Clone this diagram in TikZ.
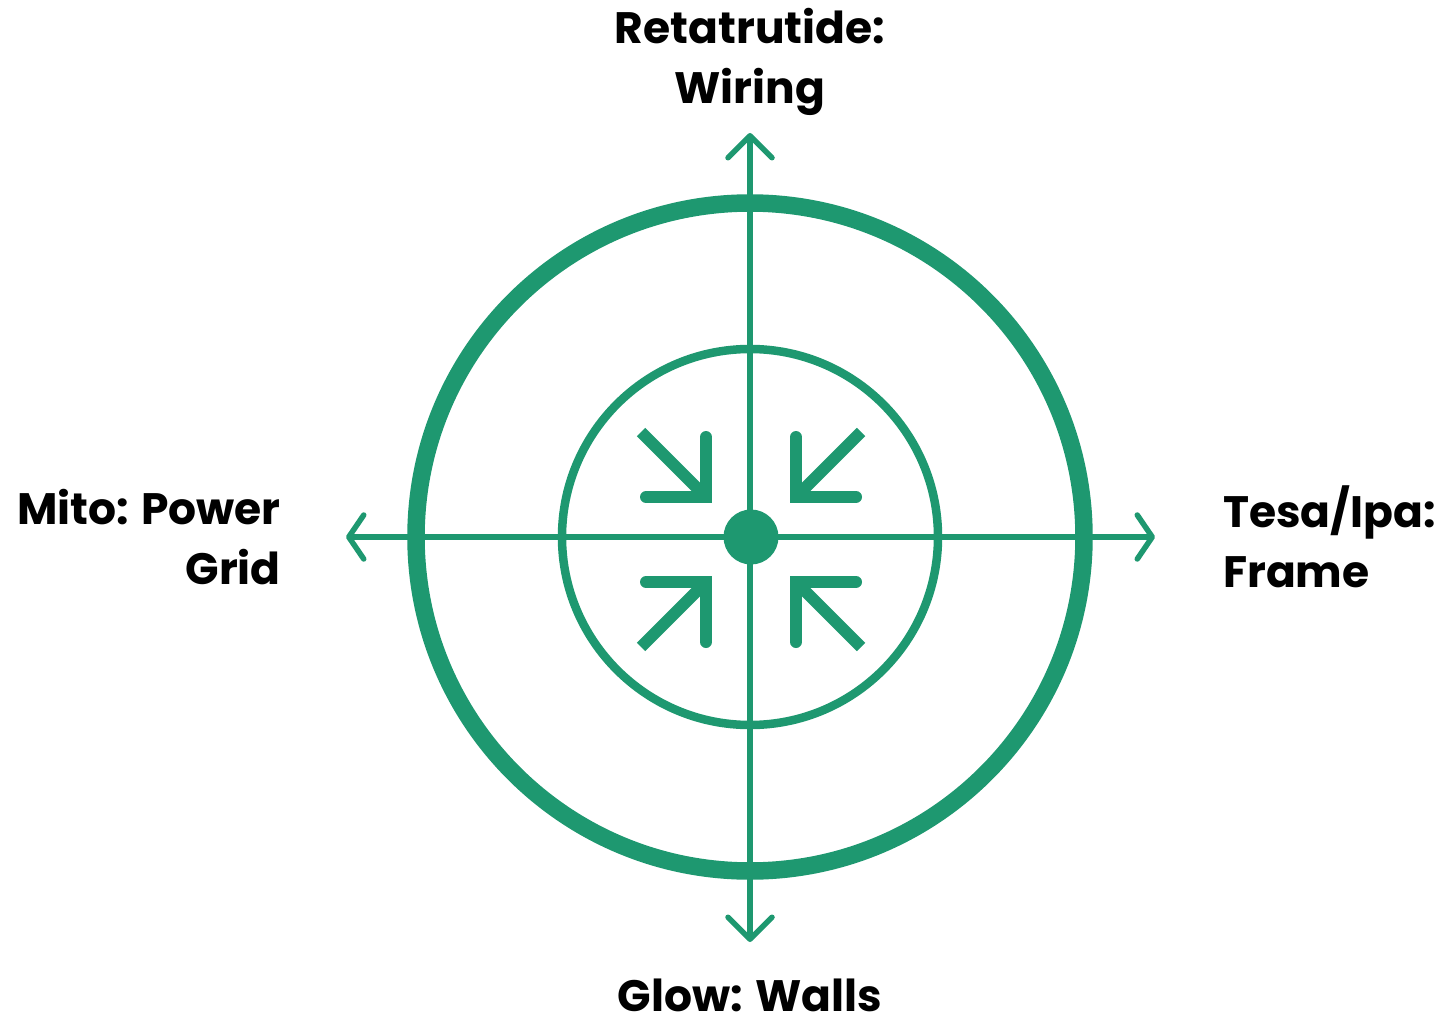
\documentclass[tikz,border=0pt]{standalone}
\usepackage{fontspec}
\setmainfont{Poppins}
\usetikzlibrary{arrows.meta}
\definecolor{ringgreen}{RGB}{30,152,112}
\begin{document}
\begin{tikzpicture}[x=1pt, y=-1pt,
  ring/.style={draw=ringgreen},
  haxis/.style={draw=ringgreen, line width=5.5pt, {Straight Barb[length=15pt,width=44pt,round]}-{Straight Barb[length=15pt,width=44pt,round]}},
  vaxis/.style={draw=ringgreen, line width=5.5pt, {Straight Barb[length=22pt,width=44pt,round]}-{Straight Barb[length=22pt,width=44pt,round]}},
  inarm/.style={draw=ringgreen, line width=12pt, line cap=round, line join=miter},
  indiag/.style={draw=ringgreen, line width=12pt},
  lbl/.style={font=\fontsize{44}{60}\selectfont\bfseries, inner sep=0pt}]
\useasboundingbox (0,0) rectangle (1438,1022);
\coordinate (O) at (750,537);
\coordinate (N) at (750,133);
\coordinate (S) at (750,942);
\coordinate (W) at (346,537);
\coordinate (E) at (1155,537);
\draw[ring, line width=17.5pt] (O) circle[radius=334pt];
\draw[ring, line width=8.5pt] (O) circle[radius=188pt];
\draw[vaxis] (S)--(N);
\draw[haxis] (W)--(E);
\node[circle, fill=ringgreen, minimum size=55pt, inner sep=0pt] (dot) at (751,537){};
\draw[inarm] (706,437)--(706,497)--(646,497);
\draw[indiag] (641,432)--(706,497);
\draw[inarm] (796,437)--(796,497)--(856,497);
\draw[indiag] (861,432)--(796,497);
\draw[inarm] (706,642)--(706,582)--(646,582);
\draw[indiag] (641,647)--(706,582);
\draw[inarm] (796,642)--(796,582)--(856,582);
\draw[indiag] (861,647)--(796,582);
\node[lbl, align=center] (ret) at (750,62){Retatrutide:\\Wiring};
\node[lbl, align=right, anchor=east] (mito) at (281,537){Mito: Power\\Grid};
\node[lbl, align=left, anchor=west] (tesa) at (1223,537){Tesa/Ipa:\\Frame};
\node[lbl, anchor=base, text depth=0pt] (glow) at (750,1011){Glow: Walls};
\end{tikzpicture}
\end{document}
